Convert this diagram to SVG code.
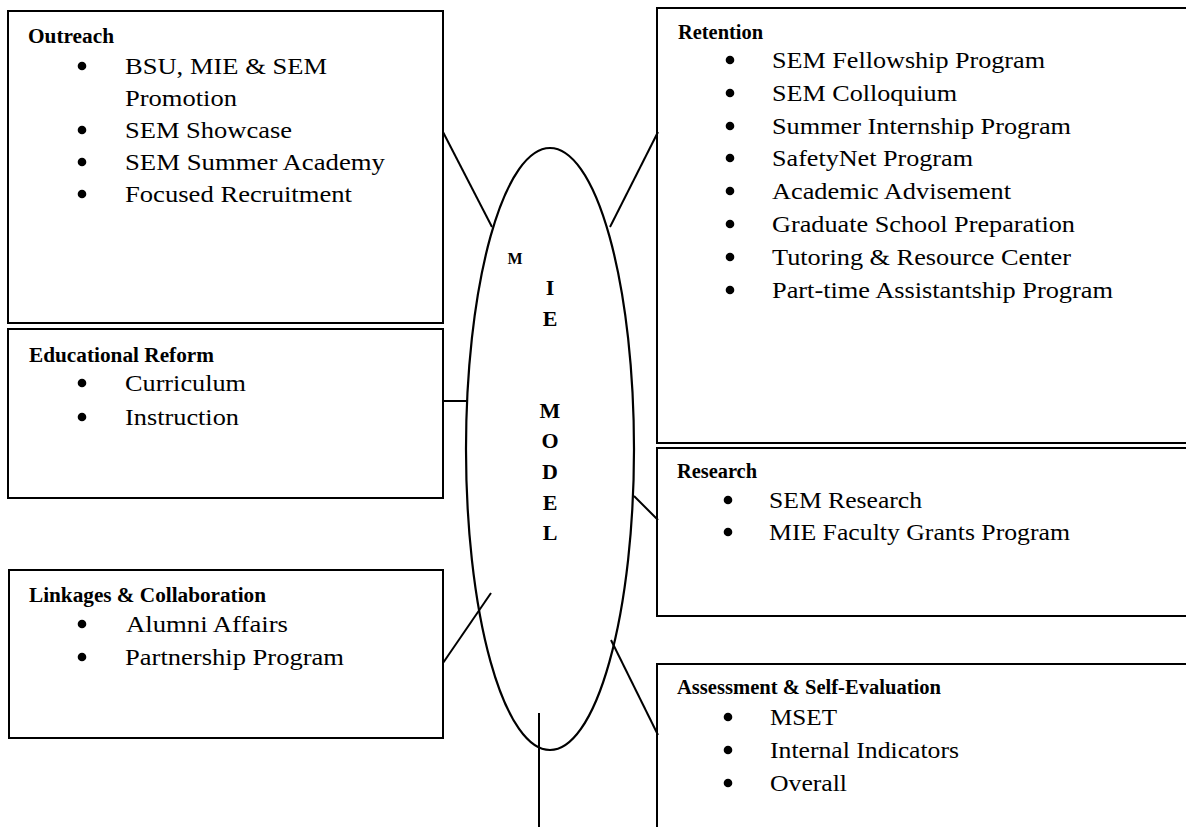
<svg xmlns="http://www.w3.org/2000/svg" width="1186" height="827" viewBox="0 0 1186 827">
<style>
.box{fill:#fff;stroke:#000;stroke-width:2}
.hd{font-family:"Liberation Serif","Times New Roman",serif;font-weight:bold;font-size:20px;fill:#000}
.it{font-family:"Liberation Serif","Times New Roman",serif;font-size:23px;fill:#000}
.bl{fill:#000}
.cn line{stroke:#000;stroke-width:2}
.el{fill:none;stroke:#000;stroke-width:2.2}
.mt{font-family:"Liberation Serif","Times New Roman",serif;font-weight:bold;font-size:22px;fill:#000;text-anchor:middle}
</style>
<rect width="1186" height="827" fill="#fff"/>

<g id="outreach">
<rect class="box" x="8" y="11" width="435" height="312"/>
<text class="hd" x="28" y="43" textLength="86" lengthAdjust="spacingAndGlyphs">Outreach</text>
<circle class="bl" cx="82" cy="66" r="4.3"/>
<text class="it" x="125" y="74" textLength="202" lengthAdjust="spacingAndGlyphs">BSU, MIE &amp; SEM</text>
<text class="it" x="125" y="106" textLength="112" lengthAdjust="spacingAndGlyphs">Promotion</text>
<circle class="bl" cx="82" cy="130" r="4.3"/>
<text class="it" x="125" y="138" textLength="167" lengthAdjust="spacingAndGlyphs">SEM Showcase</text>
<circle class="bl" cx="82" cy="162" r="4.3"/>
<text class="it" x="125" y="170" textLength="260" lengthAdjust="spacingAndGlyphs">SEM Summer Academy</text>
<circle class="bl" cx="82" cy="194" r="4.3"/>
<text class="it" x="125" y="202" textLength="227" lengthAdjust="spacingAndGlyphs">Focused Recruitment</text>
</g>

<g id="educational-reform">
<rect class="box" x="8" y="329" width="435" height="169"/>
<text class="hd" x="29" y="362" textLength="185" lengthAdjust="spacingAndGlyphs">Educational Reform</text>
<circle class="bl" cx="82" cy="383" r="4.3"/>
<text class="it" x="125" y="391" textLength="121" lengthAdjust="spacingAndGlyphs">Curriculum</text>
<circle class="bl" cx="82" cy="417" r="4.3"/>
<text class="it" x="125" y="425" textLength="114" lengthAdjust="spacingAndGlyphs">Instruction</text>
</g>

<g id="linkages">
<rect class="box" x="9" y="570" width="434" height="168"/>
<text class="hd" x="29" y="602" textLength="237" lengthAdjust="spacingAndGlyphs">Linkages &amp; Collaboration</text>
<circle class="bl" cx="82" cy="624" r="4.3"/>
<text class="it" x="126" y="632" textLength="162" lengthAdjust="spacingAndGlyphs">Alumni Affairs</text>
<circle class="bl" cx="82" cy="657" r="4.3"/>
<text class="it" x="125" y="665" textLength="219" lengthAdjust="spacingAndGlyphs">Partnership Program</text>
</g>

<g id="retention">
<rect class="box" x="657" y="8" width="545" height="435"/>
<text class="hd" x="678" y="39" textLength="85" lengthAdjust="spacingAndGlyphs">Retention</text>
<circle class="bl" cx="730" cy="60" r="4.3"/>
<text class="it" x="772" y="68" textLength="273" lengthAdjust="spacingAndGlyphs">SEM Fellowship Program</text>
<circle class="bl" cx="730" cy="93" r="4.3"/>
<text class="it" x="772" y="101" textLength="185" lengthAdjust="spacingAndGlyphs">SEM Colloquium</text>
<circle class="bl" cx="730" cy="126" r="4.3"/>
<text class="it" x="772" y="134" textLength="299" lengthAdjust="spacingAndGlyphs">Summer Internship Program</text>
<circle class="bl" cx="730" cy="158" r="4.3"/>
<text class="it" x="772" y="166" textLength="201" lengthAdjust="spacingAndGlyphs">SafetyNet Program</text>
<circle class="bl" cx="730" cy="191" r="4.3"/>
<text class="it" x="772" y="199" textLength="239" lengthAdjust="spacingAndGlyphs">Academic Advisement</text>
<circle class="bl" cx="730" cy="224" r="4.3"/>
<text class="it" x="772" y="232" textLength="303" lengthAdjust="spacingAndGlyphs">Graduate School Preparation</text>
<circle class="bl" cx="730" cy="257" r="4.3"/>
<text class="it" x="772" y="265" textLength="299" lengthAdjust="spacingAndGlyphs">Tutoring &amp; Resource Center</text>
<circle class="bl" cx="730" cy="290" r="4.3"/>
<text class="it" x="772" y="298" textLength="341" lengthAdjust="spacingAndGlyphs">Part-time Assistantship Program</text>
</g>

<g id="research">
<rect class="box" x="657" y="448" width="545" height="168"/>
<text class="hd" x="677" y="478" textLength="80" lengthAdjust="spacingAndGlyphs">Research</text>
<circle class="bl" cx="728" cy="500" r="4.3"/>
<text class="it" x="769" y="508" textLength="153" lengthAdjust="spacingAndGlyphs">SEM Research</text>
<circle class="bl" cx="728" cy="532" r="4.3"/>
<text class="it" x="769" y="540" textLength="301" lengthAdjust="spacingAndGlyphs">MIE Faculty Grants Program</text>
</g>

<g id="assessment">
<rect class="box" x="657" y="664" width="545" height="190"/>
<text class="hd" x="677" y="694" textLength="264" lengthAdjust="spacingAndGlyphs">Assessment &amp; Self-Evaluation</text>
<circle class="bl" cx="728" cy="717" r="4.3"/>
<text class="it" x="770" y="725" textLength="67" lengthAdjust="spacingAndGlyphs">MSET</text>
<circle class="bl" cx="728" cy="750" r="4.3"/>
<text class="it" x="770" y="758" textLength="189" lengthAdjust="spacingAndGlyphs">Internal Indicators</text>
<circle class="bl" cx="728" cy="783" r="4.3"/>
<text class="it" x="770" y="791" textLength="77" lengthAdjust="spacingAndGlyphs">Overall</text>
</g>

<g id="mie-model">
<ellipse class="el" cx="550" cy="449" rx="84" ry="301"/>
<text class="mt" x="515" y="264" style="font-size:16px">M</text>
<text class="mt" x="550" y="295">I</text>
<text class="mt" x="550" y="326">E</text>
<text class="mt" x="550" y="418">M</text>
<text class="mt" x="550" y="448">O</text>
<text class="mt" x="550" y="479">D</text>
<text class="mt" x="550" y="510">E</text>
<text class="mt" x="550" y="540">L</text>
</g>

<g id="connectors" class="cn">
<line x1="443" y1="132" x2="492" y2="227"/>
<line x1="658" y1="132" x2="610" y2="227"/>
<line x1="443" y1="401" x2="467" y2="401"/>
<line x1="634" y1="496" x2="658" y2="520"/>
<line x1="443" y1="663" x2="491" y2="593"/>
<line x1="611" y1="640" x2="658" y2="735"/>
<line x1="539" y1="713" x2="539" y2="827"/>
</g>
</svg>
